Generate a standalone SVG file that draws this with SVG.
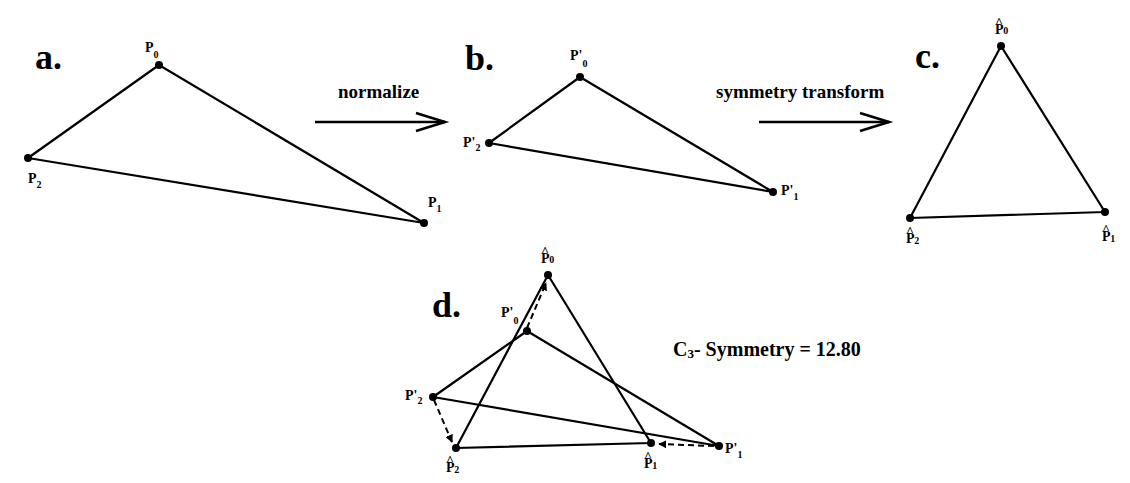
<svg xmlns="http://www.w3.org/2000/svg" width="1130" height="483" viewBox="0 0 1130 483">
<defs>
<style>
text{font-family:"Liberation Serif","Times New Roman",serif;font-weight:bold;fill:#000}
.big{font-size:36px}
.cap{font-size:19px}
.lbl{font-size:14px}
.sub{font-size:10px}
.hat{font-size:13px}
.tri{fill:none;stroke:#000;stroke-width:2.2;stroke-linejoin:round}
.dot{fill:#000}
.arr{fill:none;stroke:#000;stroke-width:2.6}
.dash{fill:none;stroke:#000;stroke-width:2;stroke-dasharray:6,4}
</style>
<marker id="ah" viewBox="0 0 10 10" refX="9" refY="5" markerWidth="4" markerHeight="4" orient="auto" markerUnits="strokeWidth">
<path d="M0,0 L10,5 L0,10 z" fill="#000"/>
</marker>
</defs>
<rect width="1130" height="483" fill="#fff"/>

<g id="panel-a">
<text class="big" x="35" y="69">a.</text>
<polygon class="tri" points="159,65 424,223 28,158"/>
<g id="a-P0"><circle class="dot" cx="159" cy="65" r="4"/><text class="lbl" x="145" y="52">P<tspan class="sub" dy="6">0</tspan></text></g>
<g id="a-P1"><circle class="dot" cx="424" cy="223" r="4"/><text class="lbl" x="428" y="207">P<tspan class="sub" dy="5">1</tspan></text></g>
<g id="a-P2"><circle class="dot" cx="28" cy="158" r="4"/><text class="lbl" x="28" y="183">P<tspan class="sub" dy="5">2</tspan></text></g>
</g>

<g id="panel-b">
<text class="big" x="465" y="70">b.</text>
<polygon class="tri" points="580,77 773,192 489,143"/>
<g id="b-P0"><circle class="dot" cx="580" cy="77" r="4"/><text class="lbl" x="570" y="60">P'<tspan class="sub" dy="7">0</tspan></text></g>
<g id="b-P1"><circle class="dot" cx="773" cy="192" r="4"/><text class="lbl" x="781" y="195">P'<tspan class="sub" dy="5">1</tspan></text></g>
<g id="b-P2"><circle class="dot" cx="489" cy="143" r="4"/><text class="lbl" x="463" y="147">P'<tspan class="sub" dy="4">2</tspan></text></g>
</g>

<g id="panel-c">
<text class="big" x="915" y="68">c.</text>
<polygon class="tri" points="1001,46 1105,212 910,218"/>
<g id="c-P0"><circle class="dot" cx="1001" cy="46" r="4"/><text class="lbl" x="995" y="34">P<tspan class="hat" dx="-8.4" dy="-8">^</tspan><tspan class="sub" dx="0.5" dy="8">0</tspan></text></g>
<g id="c-P1"><circle class="dot" cx="1105" cy="212" r="4"/><text class="lbl" x="1102" y="241">P<tspan class="hat" dx="-8.4" dy="-8">^</tspan><tspan class="sub" dx="0.5" dy="9">1</tspan></text></g>
<g id="c-P2"><circle class="dot" cx="910" cy="218" r="4"/><text class="lbl" x="906" y="243">P<tspan class="hat" dx="-8.4" dy="-8">^</tspan><tspan class="sub" dx="0.5" dy="9">2</tspan></text></g>
</g>

<g id="panel-d">
<text class="big" x="432" y="317">d.</text>
<polygon class="tri" points="548,275 651,443 456,448"/>
<polygon class="tri" points="527,331 719,446 433,397"/>
<g id="d-H0"><circle class="dot" cx="548" cy="275" r="4"/><text class="lbl" x="541" y="263">P<tspan class="hat" dx="-8.4" dy="-8">^</tspan><tspan class="sub" dx="0.5" dy="8">0</tspan></text></g>
<g id="d-H1"><circle class="dot" cx="651" cy="443" r="4"/><text class="lbl" x="644" y="468">P<tspan class="hat" dx="-8.4" dy="-8">^</tspan><tspan class="sub" dx="0.5" dy="9">1</tspan></text></g>
<g id="d-H2"><circle class="dot" cx="456" cy="448" r="4"/><text class="lbl" x="446" y="472">P<tspan class="hat" dx="-8.4" dy="-8">^</tspan><tspan class="sub" dx="0.5" dy="9">2</tspan></text></g>
<g id="d-P0"><circle class="dot" cx="527" cy="331" r="4"/><text class="lbl" x="501" y="317">P'<tspan class="sub" dy="7">0</tspan></text></g>
<g id="d-P1"><circle class="dot" cx="719" cy="446" r="4"/><text class="lbl" x="725" y="453">P'<tspan class="sub" dy="5">1</tspan></text></g>
<g id="d-P2"><circle class="dot" cx="433" cy="397" r="4"/><text class="lbl" x="405" y="400">P'<tspan class="sub" dy="4">2</tspan></text></g>
<text class="cap" x="673" y="356" style="font-size:20px">C<tspan class="sub" style="font-size:13px" dy="2">3</tspan><tspan dy="-2">- Symmetry = 12.80</tspan></text>
</g>

<g id="connectors">
<line class="arr" x1="315" y1="122" x2="445" y2="122"/>
<polyline class="arr" points="416,113 445,122 416,131"/>
<text class="cap" x="338" y="98">normalize</text>
<line class="arr" x1="759" y1="122" x2="889" y2="122"/>
<polyline class="arr" points="860,113 889,122 860,131"/>
<text class="cap" x="716" y="98">symmetry transform</text>
<line class="dash" x1="527" y1="328" x2="546" y2="283" marker-end="url(#ah)"/>
<line class="dash" x1="434" y1="400" x2="452" y2="442" marker-end="url(#ah)"/>
<line class="dash" x1="714" y1="446" x2="659" y2="444" marker-end="url(#ah)"/>
</g>
</svg>
